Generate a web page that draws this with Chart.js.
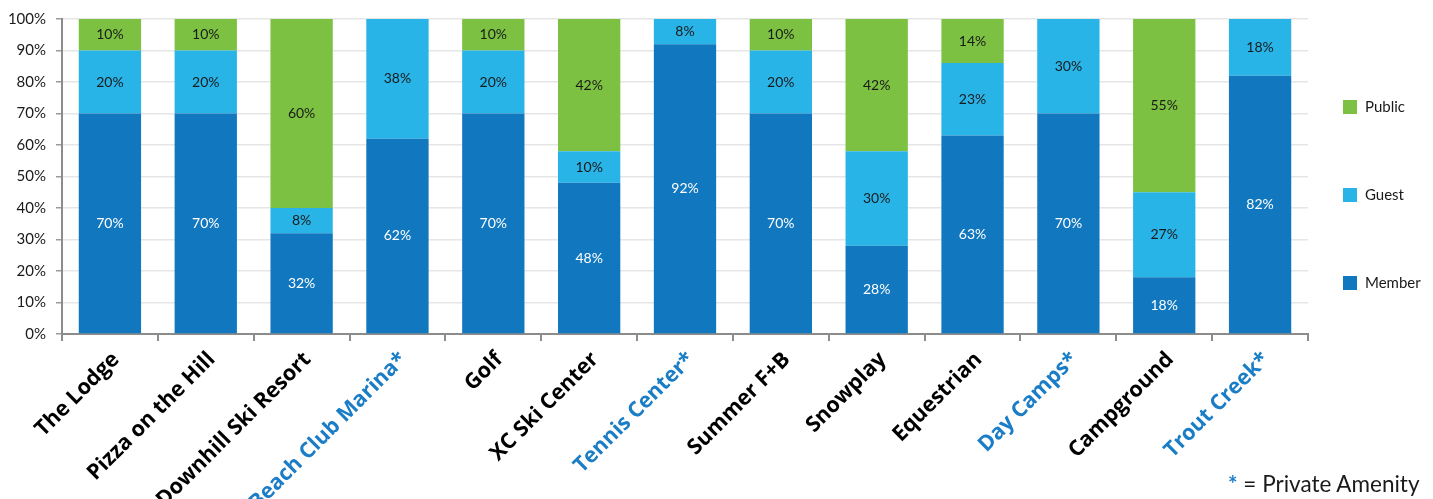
<!DOCTYPE html>
<html>
<head>
<meta charset="utf-8">
<script src="https://cdn.jsdelivr.net/npm/chart.js@4.4.1/dist/chart.umd.min.js"></script>
<style>
  html, body { margin: 0; padding: 0; background: #fff; }
  #wrap { position: relative; width: 1433px; height: 499px; overflow: hidden; }
  #note {
    position: absolute; left: 1228px; top: 471px;
    font-family: "Lato", "Noto Sans", sans-serif; font-size: 22.5px; color: #1a1a1a;
    white-space: nowrap; line-height: 26px;
  }
  #note b { color: #1a7dc6; }
</style>
</head>
<body>
<div id="wrap">
  <canvas id="amenityChart"></canvas>
  <div id="note"><b>*</b> = Private Amenity</div>
</div>
<script>
// Amenity usage split by user type

const categories = [
  "The Lodge", "Pizza on the Hill", "Downhill Ski Resort", "Beach Club Marina*",
  "Golf", "XC Ski Center", "Tennis Center*", "Summer F+B", "Snowplay",
  "Equestrian", "Day Camps*", "Campground", "Trout Creek*"
];
const memberValues = [70, 70, 32, 62, 70, 48, 92, 70, 28, 63, 70, 18, 82];
const guestValues  = [20, 20, 8, 38, 20, 10, 8, 20, 30, 23, 30, 27, 18];
const publicValues = [10, 10, 60, 0, 10, 42, 0, 10, 42, 14, 0, 55, 0];
const yTicks = [0, 10, 20, 30, 40, 50, 60, 70, 80, 90, 100];

const FONT = "'Lato', 'Noto Sans', sans-serif";
const LABEL_FONT = "'Open Sans', 'Lato', sans-serif";
const PRIVATE_BLUE = "#1a7dc6";

// value labels in the middle of each segment
const segmentLabels = {
  id: "segmentLabels",
  afterDatasetsDraw(chart) {
    const ctx = chart.ctx;
    ctx.save();
    ctx.font = "14px " + FONT;
    ctx.textAlign = "center";
    ctx.textBaseline = "middle";
    chart.data.datasets.forEach((ds, i) => {
      const meta = chart.getDatasetMeta(i);
      meta.data.forEach((bar, j) => {
        const v = ds.data[j];
        if (!v) return;
        const p = bar.getProps(["x", "y", "base"], true);
        ctx.fillStyle = i === 0 ? "#ffffff" : "#1a1a1a";
        ctx.fillText(v + "%", p.x, (p.y + p.base) / 2);
      });
    });
    ctx.restore();
  },
};

// legend on the right, widely spaced (Public on top)
const sideLegend = {
  id: "sideLegend",
  afterDraw(chart) {
    const ctx = chart.ctx;
    const rows = [
      { ds: 2, y: 107 },
      { ds: 1, y: 195 },
      { ds: 0, y: 283 },
    ];
    ctx.save();
    ctx.font = "15px " + FONT;
    ctx.textBaseline = "middle";
    ctx.textAlign = "left";
    rows.forEach((r) => {
      const ds = chart.data.datasets[r.ds];
      ctx.fillStyle = ds.backgroundColor;
      ctx.fillRect(1343, r.y - 7, 14, 14);
      ctx.fillStyle = "#1a1a1a";
      ctx.fillText(ds.label, 1365, r.y);
    });
    ctx.restore();
  },
};

const ctx = document.getElementById("amenityChart");

new Chart(ctx, {
  type: "bar",
  data: {
    labels: categories,
    datasets: [
      { label: "Member", data: memberValues, backgroundColor: "#1177bf" },
      { label: "Guest", data: guestValues, backgroundColor: "#29b4e8" },
      { label: "Public", data: publicValues, backgroundColor: "#7cc142" },
    ],
  },
  options: {
    responsive: true,
    maintainAspectRatio: false,
    animation: false,
    devicePixelRatio: 1,
    layout: { padding: { top: 17, right: 125, left: 0, bottom: 0 } },
    datasets: {
      bar: { categoryPercentage: 1, barPercentage: 0.65, borderWidth: 0 },
    },
    plugins: {
      legend: { display: false },
      tooltip: { enabled: false },
    },
    scales: {
      x: {
        stacked: true,
        afterFit(scale) { scale.height = 165; },
        grid: {
          offset: true,
          drawOnChartArea: false,
          tickLength: 7,
          color: "#8c8c8c",
          lineWidth: 2,
        },
        border: { color: "#8c8c8c", width: 2 },
        ticks: {
          autoSkip: false,
          maxRotation: 45,
          minRotation: 45,
          padding: 6,
          labelOffset: 6,
          font: { family: LABEL_FONT, size: 21.5, weight: "bold" },
          color: (c) => categories[c.index] && categories[c.index].endsWith("*") ? PRIVATE_BLUE : "#000000",
        },
      },
      y: {
        stacked: true,
        min: 0,
        max: 100,
        afterFit(scale) { scale.width = 62; },
        afterBuildTicks(scale) { scale.ticks = yTicks.map((v) => ({ value: v })); },
        grid: {
          color: "#e6e6e6",
          lineWidth: 1.5,
          tickLength: 6,
          tickColor: "#9a9a9a",
        },
        border: { color: "#8c8c8c", width: 2 },
        ticks: {
          padding: 10,
          color: "#1a1a1a",
          font: { family: FONT, size: 15 },
          callback: (v) => v + "%",
        },
      },
    },
  },
  plugins: [segmentLabels, sideLegend],
});
</script>
</body>
</html>
